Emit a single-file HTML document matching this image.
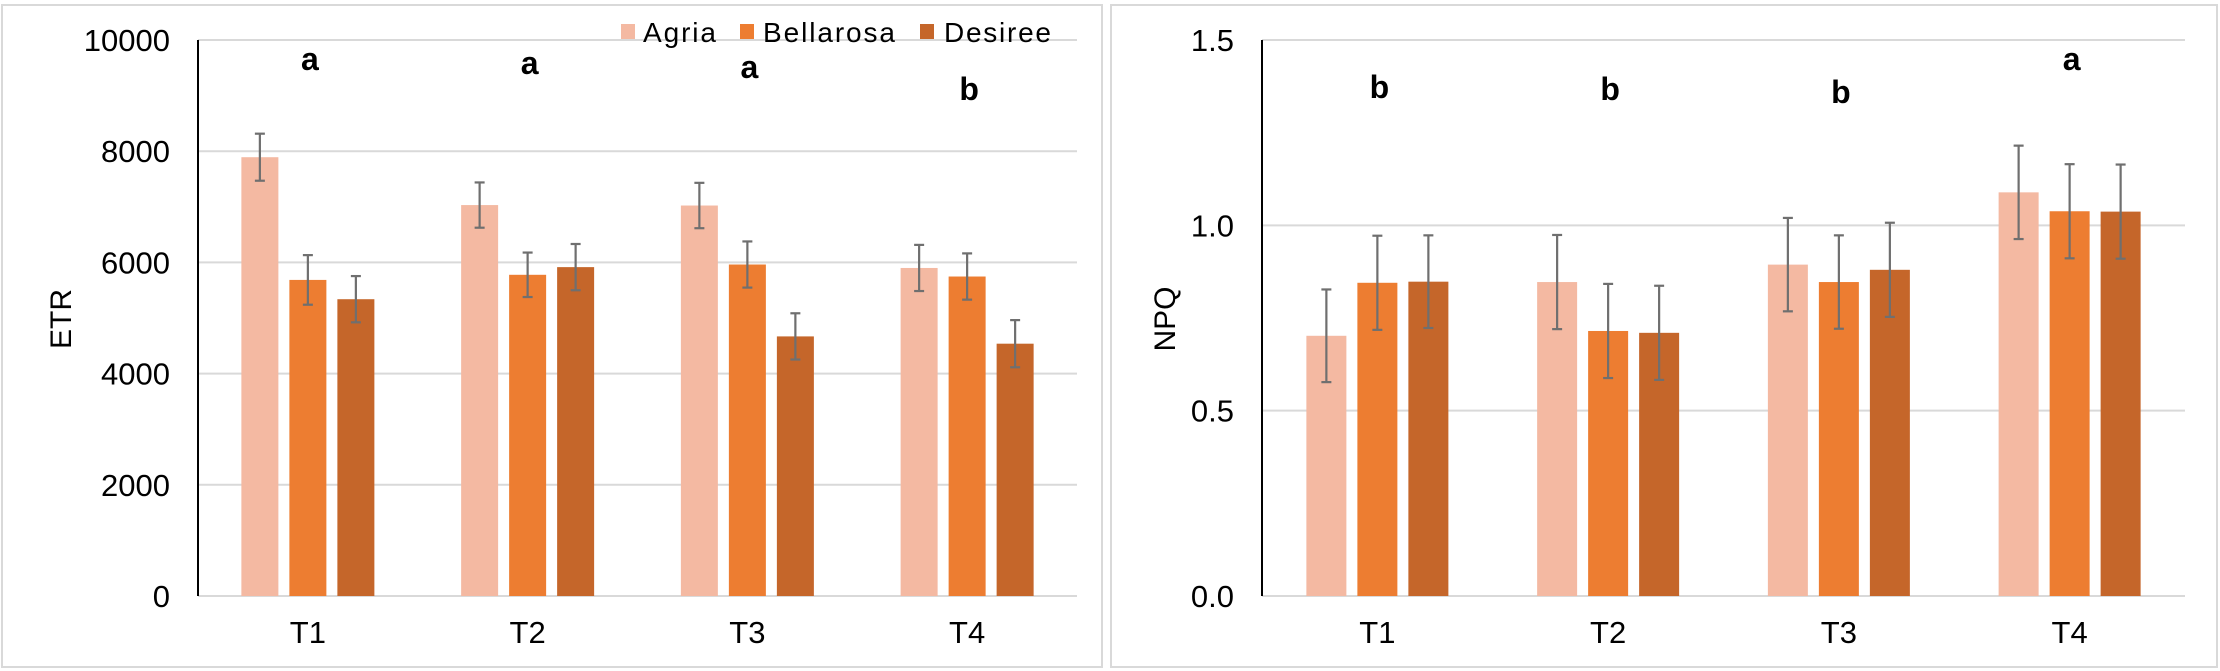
<!DOCTYPE html>
<html><head><meta charset="utf-8"><style>
html,body{margin:0;padding:0;background:#fff;}
svg{display:block;font-family:"Liberation Sans",Arial,sans-serif;}
</style></head><body>
<svg id="fig" width="2220" height="671" viewBox="0 0 2220 671" xmlns="http://www.w3.org/2000/svg">
<rect x="2" y="5" width="1100" height="662" fill="#fff" stroke="#d9d9d9" stroke-width="2"/>
<rect x="1111" y="5" width="1106" height="662" fill="#fff" stroke="#d9d9d9" stroke-width="2"/>
<g id="left"></g>
<g id="right"></g>
<g>
  <g><rect x="621" y="24" width="14" height="15" fill="#f4b9a2"/><text x="643" y="42" font-size="28" fill="#000" textLength="73">Agria</text></g>
  <g><rect x="740" y="24" width="14" height="15" fill="#ed7d31"/><text x="763" y="42" font-size="28" fill="#000" textLength="132">Bellarosa</text></g>
  <g><rect x="920" y="24" width="14" height="15" fill="#c5662a"/><text x="944" y="42" font-size="28" fill="#000" textLength="107">Desiree</text></g>
</g>
</svg>
<script>
const categories = ["T1","T2","T3","T4"];
const seriesNames = ["Agria","Bellarosa","Desiree"];
const etrAgria = [7892, 7031, 7023, 5900];
const etrBellarosa = [5685, 5777, 5962, 5746];
const etrDesiree = [5338, 5915, 4669, 4538];
const etrErrAgria = [423, 407, 408, 415];
const etrErrBellarosa = [446, 400, 415, 416];
const etrErrDesiree = [416, 416, 416, 424];
const etrLetters = ["a","a","a","b"];
const etrTicks = [0, 2000, 4000, 6000, 8000, 10000];
const npqAgria = [0.702, 0.847, 0.894, 1.089];
const npqBellarosa = [0.845, 0.715, 0.847, 1.038];
const npqDesiree = [0.848, 0.710, 0.880, 1.037];
const npqErrAgria = [0.125, 0.127, 0.126, 0.126];
const npqErrBellarosa = [0.127, 0.127, 0.126, 0.127];
const npqErrDesiree = [0.125, 0.127, 0.127, 0.127];
const npqLetters = ["b","b","b","a"];
const npqTicks = [0.0, 0.5, 1.0, 1.5];

const colors = ["#f4b9a2","#ed7d31","#c5662a"];
const NS = "http://www.w3.org/2000/svg";
function mk(parent, tag, attrs){const e=document.createElementNS(NS,tag);for(const k in attrs)e.setAttribute(k,attrs[k]);parent.appendChild(e);return e;}

function drawChart(g, cfg){
  const y = v => cfg.y0 - (v - cfg.min)/(cfg.max - cfg.min)*(cfg.y0 - cfg.yTop);
  const gw = (cfg.x1 - cfg.x0)/categories.length;
  const xc = i => cfg.x0 + gw*(i+0.5);
  cfg.ticks.forEach(t=>{
    if(t!==cfg.min){
      const l=mk(g,"line",{x1:cfg.x0,x2:cfg.x1,y1:y(t),y2:y(t),stroke:"#d9d9d9","stroke-width":2});
      
      
    }
    const tx=mk(g,"text",{x:cfg.x0-28,y:y(t)+11,"text-anchor":"end","font-size":31,fill:"#000"});
    tx.textContent = cfg.fmt(t);
    
    
  });
  const base=mk(g,"line",{x1:cfg.x0,x2:cfg.x1,y1:y(cfg.min),y2:y(cfg.min),stroke:"#d9d9d9","stroke-width":2});
  
  
  categories.forEach((c,i)=>{
    cfg.vals.forEach((arr,s)=>{
      const cx = xc(i) + (s-1)*cfg.step;
      const r=mk(g,"rect",{x:cx-cfg.bw/2,y:y(arr[i]),width:cfg.bw,height:y(cfg.min)-y(arr[i]),fill:colors[s]});
      
      
      const e=cfg.errs[s][i];
      const eg=mk(g,"g",{stroke:"#6f6f6f","stroke-width":2.2});
      
      
      mk(eg,"line",{x1:cx,x2:cx,y1:y(arr[i]+e),y2:y(arr[i]-e)});
      mk(eg,"line",{x1:cx-5,x2:cx+5,y1:y(arr[i]+e),y2:y(arr[i]+e)});
      mk(eg,"line",{x1:cx-5,x2:cx+5,y1:y(arr[i]-e),y2:y(arr[i]-e)});
    });
    const lt=mk(g,"text",{x:xc(i)+cfg.letterDx,y:cfg.letterY[i],"text-anchor":"middle","font-size":32,"font-weight":"bold",fill:"#000"});
    lt.textContent=cfg.letters[i];
    
    
    const cl=mk(g,"text",{x:xc(i),y:643,"text-anchor":"middle","font-size":31,fill:"#000"});
    cl.textContent=c;
    
    
  });
  const ax=mk(g,"line",{x1:cfg.x0,x2:cfg.x0,y1:cfg.yTop,y2:y(cfg.min),stroke:"#000","stroke-width":2});
  
  
  const yt=mk(g,"text",{x:cfg.titleX,y:319,"text-anchor":"middle","font-size":30,fill:"#000",transform:`rotate(-90 ${cfg.titleX} 319)`});
  yt.textContent=cfg.title;
  
  
}
drawChart(document.getElementById('left'),{
  x0:198,x1:1077,y0:596,yTop:40,min:0,max:10000,ticks:etrTicks,fmt:v=>String(v),
  vals:[etrAgria,etrBellarosa,etrDesiree],errs:[etrErrAgria,etrErrBellarosa,etrErrDesiree],
  bw:37,step:48,letters:etrLetters,letterY:[70,74,78,100],letterDx:2,title:"ETR",titleX:71
});
drawChart(document.getElementById('right'),{
  x0:1262,x1:2185,y0:596,yTop:40,min:0,max:1.5,ticks:npqTicks,fmt:v=>v.toFixed(1),
  vals:[npqAgria,npqBellarosa,npqDesiree],errs:[npqErrAgria,npqErrBellarosa,npqErrDesiree],
  bw:40,step:51,letters:npqLetters,letterY:[98,100,103,70],letterDx:2,title:"NPQ",titleX:1175
});
</script>
</body></html>
